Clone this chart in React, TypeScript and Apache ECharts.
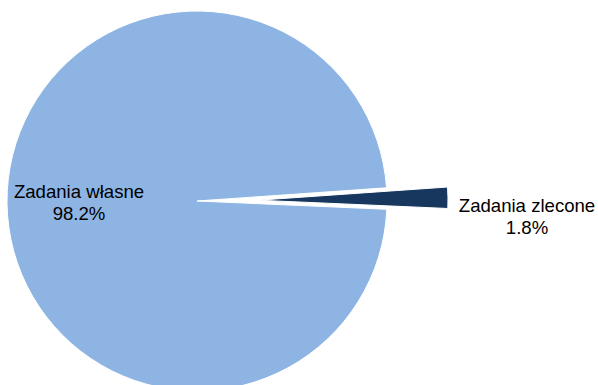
import React, { useEffect, useRef } from "react";
import * as echarts from "echarts";

const categories = ["Zadania własne", "Zadania zlecone"];
const values = [98.2, 1.8];
const colors = ["#8EB4E3", "#17375E"];

export default function App() {
  const ref = useRef<HTMLDivElement>(null);
  useEffect(() => {
    if (!ref.current) return;
    const chart = echarts.init(ref.current, null, { renderer: "svg" });
    const data = categories.map((name, i) => ({
      name,
      value: values[i],
      selected: i === 1,
      itemStyle: { color: colors[i] },
    }));
    chart.setOption({
      animation: false,
      backgroundColor: "#ffffff",
      series: [
        {
          type: "pie",
          center: [197, 201],
          radius: [0, 190],
          startAngle: -2.5,
          clockwise: true,
          selectedMode: "single",
          selectedOffset: 61,
          percentPrecision: 1,
          avoidLabelOverlap: false,
          emphasis: { disabled: true },
          itemStyle: { borderColor: "#ffffff", borderWidth: 1 },
          label: {
            show: true,
            position: "inside",
            formatter: "{b}\n{d}%",
            color: "#000000",
            fontFamily: "Liberation Sans, Arial, sans-serif",
            fontSize: 18.6,
            lineHeight: 22,
            align: "center",
          },
          labelLine: { show: false },
          labelLayout: (params: any) =>
            params.dataIndex === 0 ? { dx: -20, dy: 0 } : { dx: 171, dy: 18 },
          data,
        },
      ],
    });
    return () => chart.dispose();
  }, []);
  return (
    <div
      ref={ref}
      style={{ position: "fixed", left: 0, top: 0, width: 598, height: 385 }}
    />
  );
}
